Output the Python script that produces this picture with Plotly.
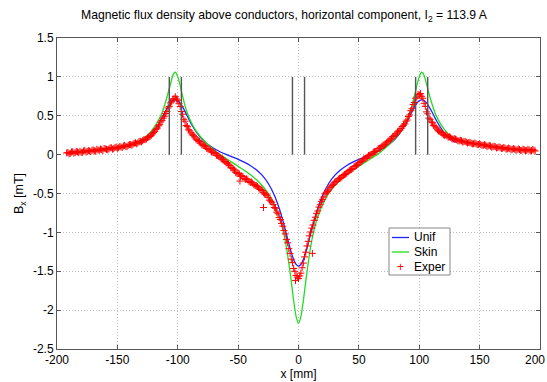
import plotly.graph_objects as go

# ---------------- data ----------------
model_x = [-130, -125, -120, -116, -113, -110, -107, -106, -105, -104, -103, -102, -101, -100, -99, -98, -97,
           -94, -91, -88, -85, -80, -75, -70, -65, -60, -55, -50, -45, -40, -35, -30, -25, -20, -16, -13,
           -10, -8, -6, -4, -2, 0, 2, 4, 6, 8, 10, 13, 16, 20, 25, 30, 35, 40, 45, 50, 55, 60, 65, 70,
           75, 80, 85, 88, 91, 94, 97, 98, 99, 100, 101, 102, 103, 104, 105, 106, 107, 110, 113, 116,
           120, 125, 130]

unif_y = [0.156, 0.213, 0.297, 0.391, 0.475, 0.565, 0.644, 0.666, 0.683, 0.695, 0.703, 0.705, 0.701, 0.693,
          0.679, 0.661, 0.639, 0.556, 0.462, 0.374, 0.298, 0.199, 0.129, 0.078, 0.037, 0.003, -0.029,
          -0.060, -0.096, -0.139, -0.194, -0.267, -0.371, -0.522, -0.689, -0.846, -1.023, -1.145,
          -1.257, -1.351, -1.412, -1.434, -1.412, -1.351, -1.257, -1.145, -1.023, -0.846, -0.689,
          -0.522, -0.371, -0.267, -0.194, -0.139, -0.096, -0.060, -0.029, 0.003, 0.037, 0.078, 0.129,
          0.199, 0.298, 0.374, 0.462, 0.556, 0.639, 0.661, 0.679, 0.693, 0.701, 0.705, 0.703, 0.695,
          0.683, 0.666, 0.644, 0.565, 0.475, 0.391, 0.297, 0.213, 0.156]

skin_y = [0.19, 0.25, 0.34, 0.44, 0.54, 0.68, 0.85, 0.91, 0.97, 1.02, 1.05, 1.06, 1.04, 1.00, 0.95, 0.89,
          0.82, 0.63, 0.49, 0.39, 0.31, 0.21, 0.13, 0.06, 0.0, -0.05, -0.10, -0.15, -0.20, -0.255, -0.32,
          -0.40, -0.50, -0.64, -0.80, -0.96, -1.19, -1.40, -1.63, -1.88, -2.08, -2.17, -2.08, -1.88,
          -1.63, -1.40, -1.19, -0.96, -0.80, -0.64, -0.50, -0.40, -0.32, -0.255, -0.20, -0.15, -0.10,
          -0.05, 0.0, 0.06, 0.13, 0.21, 0.31, 0.39, 0.49, 0.63, 0.82, 0.89, 0.95, 1.00, 1.04, 1.06, 1.05,
          1.02, 0.97, 0.91, 0.85, 0.68, 0.54, 0.44, 0.34, 0.25, 0.19]

exper_x = [-192, -190, -188, -186, -184, -182, -180, -178, -176, -174, -172, -170, -168, -166, -164, -162,
           -160, -158, -156, -154, -152, -150, -148, -146, -144, -142, -140, -138, -136, -134, -132, -130,
           -128, -126, -124, -122, -120,
           -119, -118, -117, -116, -115, -114, -113, -112, -111, -110, -109, -108, -107, -106, -105, -104,
           -103, -102, -101, -100, -99, -98, -97, -96, -95, -94, -93, -92, -91, -90,
           -88, -86, -84, -82, -80, -78, -76, -74, -72, -70, -68, -66, -64, -62, -60, -58, -56, -54, -52,
           -50, -48, -46, -44, -42, -40, -38, -36, -34, -32, -30, -28, -26, -24, -22, -20,
           -19, -18, -17, -16, -15, -14, -13, -12, -11, -10, -9, -8, -7, -6, -5, -4, -3, -2, -1, 0, 1, 2,
           3, 4, 5, 6, 7, 8, 9, 10, 11, 12, 13, 14, 15, 16, 17, 18, 19,
           20, 22, 24, 26, 28, 30, 32, 34, 36, 38, 40, 42, 44, 46, 48, 50, 52, 54, 56, 58, 60, 62, 64, 66,
           68, 70, 72, 74, 76, 78, 80, 82, 84, 86, 88,
           89, 90, 91, 92, 93, 94, 95, 96, 97, 98, 99, 100, 101, 102, 103, 104, 105, 106, 107, 108, 109,
           110, 111, 112,
           114, 116, 118, 120, 122, 124, 126, 128, 130, 132, 134, 136, 138, 140, 142, 144, 146, 148, 150,
           152, 154, 156, 158, 160, 162, 164, 166, 168, 170, 172, 174, 176, 178, 180, 182, 184, 186, 188,
           190, 192, 194, 196,
           -48.5, -29, 11.5, -2.5]

exper_y = [0.022, 0.010, 0.034, 0.018, 0.041, 0.024, 0.030, 0.047, 0.033, 0.052, 0.038, 0.061, 0.044, 0.058,
           0.071, 0.052, 0.075, 0.063, 0.086, 0.070, 0.092, 0.081, 0.104, 0.091, 0.117, 0.103, 0.128,
           0.121, 0.146, 0.139, 0.168, 0.164, 0.193, 0.201, 0.226, 0.248, 0.282,
           0.30, 0.325, 0.34, 0.37, 0.385, 0.42, 0.44, 0.47, 0.495, 0.53, 0.555, 0.60, 0.62, 0.665, 0.68,
           0.715, 0.72, 0.745, 0.715, 0.70, 0.655, 0.62, 0.555, 0.52, 0.455, 0.43, 0.375, 0.36, 0.32, 0.305,
           0.255, 0.23, 0.185, 0.17, 0.125, 0.118, 0.08, 0.072, 0.035, 0.028, -0.008, -0.018, -0.055,
           -0.068, -0.105, -0.122, -0.168, -0.183, -0.228, -0.238, -0.278, -0.283, -0.318, -0.325,
           -0.358, -0.365, -0.398, -0.41, -0.448, -0.462, -0.508, -0.522, -0.585, -0.612, -0.68,
           -0.69, -0.74, -0.76, -0.81, -0.835, -0.885, -0.92, -0.975, -1.02, -1.09, -1.135, -1.21, -1.27,
           -1.345, -1.39, -1.465, -1.50, -1.555, -1.575, -1.595, -1.56, -1.525, -1.455, -1.395, -1.315,
           -1.255, -1.175, -1.115, -1.045, -0.995, -0.945, -0.905, -0.845, -0.805, -0.755, -0.725,
           -0.675, -0.645, -0.6,
           -0.575, -0.505, -0.475, -0.425, -0.395, -0.355, -0.338, -0.305, -0.288, -0.255, -0.238,
           -0.205, -0.19, -0.155, -0.14, -0.105, -0.09, -0.055, -0.045, -0.012, -0.004, 0.032, 0.04,
           0.078, 0.085, 0.122, 0.135, 0.172, 0.19, 0.232, 0.25, 0.292, 0.315, 0.362, 0.395,
           0.43, 0.445, 0.49, 0.51, 0.565, 0.59, 0.645, 0.67, 0.725, 0.74, 0.775, 0.77, 0.785, 0.75, 0.725,
           0.66, 0.62, 0.55, 0.525, 0.47, 0.455, 0.42, 0.41, 0.375,
           0.345, 0.305, 0.285, 0.255, 0.252, 0.225, 0.222, 0.198, 0.2, 0.178, 0.185, 0.162, 0.17, 0.148,
           0.158, 0.138, 0.149, 0.128, 0.14, 0.118, 0.128, 0.106, 0.118, 0.096, 0.108, 0.087, 0.099,
           0.078, 0.092, 0.07, 0.084, 0.063, 0.078, 0.058, 0.073, 0.052, 0.07, 0.05, 0.068, 0.048, 0.064,
           0.047,
           -0.34, -0.68, -1.27, -1.62]

# additional measurement positions (odd millimetres) in the tails and flanks
exper_x_odd = [-191, -189, -187, -185, -183, -181, -179, -177, -175, -173, -171, -169, -167, -165, -163,
               -161, -159, -157, -155, -153, -151, -149, -147, -145, -143, -141, -139, -137, -135, -133,
               -131, -129, -127, -125, -123, -121,
               -89, -87, -85, -83, -81, -79, -77, -75, -73, -71, -69, -67, -65, -63, -61, -59, -57, -55,
               -53, -51, -49, -47, -45, -43, -41, -39, -37, -35, -33, -31, -29, -27, -25, -23, -21,
               21, 23, 25, 27, 29, 31, 33, 35, 37, 39, 41, 43, 45, 47, 49, 51, 53, 55, 57, 59, 61, 63, 65,
               67, 69, 71, 73, 75, 77, 79, 81, 83, 85, 87,
               113, 115, 117, 119, 121, 123, 125, 127, 129, 131, 133, 135, 137, 139, 141, 143, 145, 147,
               149, 151, 153, 155, 157, 159, 161, 163, 165, 167, 169, 171, 173, 175, 177, 179, 181, 183,
               185, 187, 189, 191, 193, 195]

exper_y_odd = [0.028, 0.016, 0.038, 0.026, 0.035, 0.043, 0.029, 0.055, 0.041, 0.046, 0.056, 0.049, 0.068,
               0.056, 0.064, 0.078, 0.068, 0.074, 0.089, 0.077, 0.096, 0.089, 0.098, 0.112, 0.106, 0.121,
               0.13, 0.136, 0.152, 0.151, 0.172, 0.18, 0.192, 0.218, 0.232, 0.27,
               0.28, 0.248, 0.2, 0.182, 0.148, 0.126, 0.102, 0.071, 0.058, 0.03, 0.016, -0.012, -0.035,
               -0.058, -0.088, -0.108, -0.14, -0.172, -0.198, -0.24, -0.25, -0.272, -0.305, -0.312,
               -0.345, -0.352, -0.385, -0.396, -0.428, -0.445, -0.49, -0.505, -0.55, -0.598, -0.64,
               -0.545, -0.49, -0.455, -0.405, -0.38, -0.345, -0.315, -0.3, -0.27, -0.25, -0.222, -0.195,
               -0.178, -0.148, -0.125, -0.1, -0.072, -0.05, -0.03, -0.008, 0.012, 0.038, 0.055, 0.08,
               0.105, 0.125, 0.152, 0.178, 0.21, 0.24, 0.268, 0.305, 0.335, 0.378,
               0.365, 0.318, 0.3, 0.268, 0.248, 0.24, 0.228, 0.205, 0.205, 0.19, 0.176, 0.178, 0.166,
               0.16, 0.156, 0.146, 0.14, 0.14, 0.13, 0.13, 0.12, 0.121, 0.11, 0.11, 0.1, 0.102, 0.09,
               0.093, 0.082, 0.085, 0.075, 0.078, 0.068, 0.07, 0.062, 0.066, 0.058, 0.062, 0.055, 0.06,
               0.052, 0.058]

# conductor edges (vertical marks) and their height
conductor_edges = [-107, -97, -5, 5, 97, 107]
conductor_top = 1.0

x_ticks = [-200, -150, -100, -50, 0, 50, 100, 150, 200]
x_ticklabels = ["-200", "-150", "-100", "-50", "0", "50", "100", "150", "200"]
y_ticks = [-2.5, -2, -1.5, -1, -0.5, 0, 0.5, 1, 1.5]
y_ticklabels = ["-2.5", "-2", "-1.5", "-1", "-0.5", "0", "0.5", "1", "1.5"]

series_names = ["Unif", "Skin", "Exper"]
series_colors = ["#2020ff", "#22dd22", "#ff0000"]

title_text = "Magnetic flux density above conductors, horizontal component, I<sub>2</sub> = 113.9 A"

# ---------------- figure ----------------
FONT = "Liberation Sans, Arial, sans-serif"
fig = go.Figure()

fig.add_trace(go.Scatter(x=model_x, y=unif_y, mode="lines", name=series_names[0], showlegend=False,
                         line=dict(color=series_colors[0], width=1.3, shape="spline", smoothing=0.5)))
fig.add_trace(go.Scatter(x=model_x, y=skin_y, mode="lines", name=series_names[1], showlegend=False,
                         line=dict(color=series_colors[1], width=1.3, shape="spline", smoothing=0.5)))
fig.add_trace(go.Scatter(x=exper_x + exper_x_odd, y=exper_y + exper_y_odd, mode="markers",
                         name=series_names[2], showlegend=False,
                         marker=dict(symbol="cross-thin", size=5, color=series_colors[2],
                                     line=dict(width=1, color=series_colors[2]))))

for xe in conductor_edges:
    fig.add_trace(go.Scatter(x=[xe, xe], y=[0, conductor_top], mode="lines", showlegend=False,
                             line=dict(color="#555555", width=1.4), hoverinfo="skip"))

axis_common = dict(showgrid=True, gridcolor="#bdbdbd", griddash="1px,2px", gridwidth=1,
                   showline=True, linecolor="#555555", linewidth=1, mirror="ticks",
                   ticks="inside", ticklen=4, tickcolor="#555555", zeroline=False,
                   automargin=False,
                   tickfont=dict(family=FONT, size=12, color="black"))

# the last x tick label sits on the page edge; it is drawn as an annotation so it is not dropped
x_ticktext_axis = x_ticklabels[:-1] + [""]

fig.update_xaxes(range=[-200, 200], tickvals=x_ticks, ticktext=x_ticktext_axis,
                 title=dict(text="x [mm]", font=dict(family=FONT, size=12, color="black"), standoff=2),
                 **axis_common)
fig.update_yaxes(range=[-2.5, 1.5], tickvals=y_ticks, ticktext=y_ticklabels,
                 title=dict(text="B<sub>x</sub> [mT]", font=dict(family=FONT, size=12.5, color="black"),
                            standoff=6),
                 **axis_common)

# ---- hand-built legend box (paper coordinates from plot-area pixels) ----
PL, PR, PT, PB = 57, 540, 38, 349


def px2paper_x(px):
    return (px - PL) / (PR - PL)


def py2paper_y(py):
    return (PB - py) / (PB - PT)


shapes = [dict(type="rect", xref="paper", yref="paper",
               x0=px2paper_x(389), x1=px2paper_x(450), y0=py2paper_y(275), y1=py2paper_y(228),
               line=dict(color="#888888", width=1), fillcolor="white", layer="above")]
annotations = [dict(xref="x", yref="paper", x=x_ticks[-1], y=0, yanchor="top", xanchor="center",
                    yshift=-2, xshift=-5, text=x_ticklabels[-1], showarrow=False,
                    font=dict(family=FONT, size=12, color="black"))]
row_py = [237.5, 252, 266.5]
for i, name in enumerate(series_names):
    yp = py2paper_y(row_py[i])
    if i < 2:
        shapes.append(dict(type="line", xref="paper", yref="paper",
                           x0=px2paper_x(392), x1=px2paper_x(409), y0=yp, y1=yp,
                           line=dict(color=series_colors[i], width=1.3), layer="above"))
    else:
        annotations.append(dict(xref="paper", yref="paper", x=px2paper_x(400.5), y=yp,
                                text="+", showarrow=False, xanchor="center", yanchor="middle",
                                font=dict(family=FONT, size=12, color=series_colors[i])))
    annotations.append(dict(xref="paper", yref="paper", x=px2paper_x(412), y=yp, text=name,
                            showarrow=False, xanchor="left", yanchor="middle",
                            font=dict(family=FONT, size=12, color="black")))

fig.update_layout(
    width=547, height=382,
    margin=dict(l=PL, r=547 - PR, t=PT, b=382 - PB),
    plot_bgcolor="white", paper_bgcolor="white",
    font=dict(family=FONT, size=12, color="black"),
    title=dict(text=title_text, x=284 / 547, xanchor="center", y=1 - 15 / 382, yanchor="middle",
               font=dict(family=FONT, size=12.2, color="black")),
    shapes=shapes, annotations=annotations,
    showlegend=False,
)

fig.write_html("out.html")
